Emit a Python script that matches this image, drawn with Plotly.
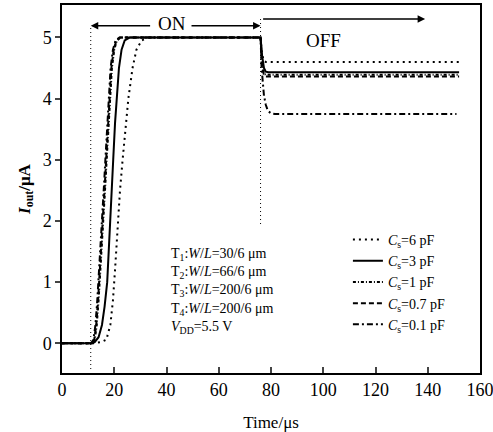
import plotly.graph_objects as go

# ---------------- data ----------------
t_6pF = [0, 12, 15, 17, 18.5, 19.5, 20.3, 21.2, 22.2, 23.2, 24.3, 25.4, 27.0, 28.5, 30.5, 33, 76, 76.5, 77.2, 78, 152]
i_6pF = [0, 0, 0.02, 0.06, 0.3, 0.7, 1.2, 1.9, 2.5, 3.0, 3.5, 4.0, 4.5, 4.8, 4.95, 5.0, 5.0, 4.75, 4.62, 4.6, 4.6]

t_3pF = [0, 11.5, 12.5, 14, 15.3, 16.3, 17.3, 18.2, 19.0, 19.6, 20.3, 20.9, 21.8, 22.8, 24, 26, 76, 76.6, 77.3, 78, 79, 152]
i_3pF = [0, 0, 0.02, 0.1, 0.3, 0.6, 1.0, 1.7, 2.4, 3.0, 3.6, 4.0, 4.5, 4.8, 4.95, 5.0, 5.0, 4.7, 4.5, 4.44, 4.43, 4.43]

t_1pF = [0, 11.5, 12.5, 13.3, 14.0, 14.6, 15.3, 16.0, 16.6, 17.1, 17.7, 18.3, 19.1, 20.0, 21.0, 22.5, 76, 76.5, 77.2, 78, 152]
i_1pF = [0, 0, 0.05, 0.3, 0.7, 1.1, 1.6, 2.1, 2.6, 3.0, 3.5, 4.0, 4.5, 4.8, 4.95, 5.0, 5.0, 4.6, 4.42, 4.39, 4.39]

t_07pF = [0, 11.3, 12.3, 13.1, 13.8, 14.4, 15.1, 15.8, 16.4, 16.9, 17.5, 18.1, 18.9, 19.8, 20.8, 22.2, 76, 76.5, 77.2, 78, 152]
i_07pF = [0, 0, 0.05, 0.3, 0.7, 1.1, 1.6, 2.1, 2.6, 3.0, 3.5, 4.0, 4.5, 4.8, 4.95, 5.0, 5.0, 4.6, 4.4, 4.36, 4.36]

t_01pF = [0, 11.0, 12.0, 12.8, 13.5, 14.1, 14.8, 15.5, 16.1, 16.6, 17.2, 17.8, 18.6, 19.5, 20.5, 22, 76, 76.4, 76.8, 77.3, 78, 78.8, 80, 81.5, 151]
i_01pF = [0, 0, 0.05, 0.3, 0.7, 1.1, 1.6, 2.1, 2.6, 3.0, 3.5, 4.0, 4.5, 4.8, 4.95, 5.0, 5.0, 4.5, 4.25, 4.05, 3.9, 3.8, 3.76, 3.75, 3.75]

series_names = ["<i>C</i><sub>s</sub>=6 pF", "<i>C</i><sub>s</sub>=3 pF", "<i>C</i><sub>s</sub>=1 pF",
                "<i>C</i><sub>s</sub>=0.7 pF", "<i>C</i><sub>s</sub>=0.1 pF"]

x_ticks = [0, 20, 40, 60, 80, 100, 120, 140, 160]
y_ticks = [0, 1, 2, 3, 4, 5]

t_on = 11        # switch-on time
t_off = 76       # switch-off time
t_off_arrow_end = 139
y_on_arrow = 5.19
y_off_arrow = 5.30
t_on_text = 42
t_off_text = 100
y_off_text = 4.95

info_lines = ["T<sub>1</sub>:<i>W</i>/<i>L</i>=30/6 μm",
              "T<sub>2</sub>:<i>W</i>/<i>L</i>=66/6 μm",
              "T<sub>3</sub>:<i>W</i>/<i>L</i>=200/6 μm",
              "T<sub>4</sub>:<i>W</i>/<i>L</i>=200/6 μm",
              "<i>V</i><sub>DD</sub>=5.5 V"]

# ---------------- figure ----------------
FONT = "Liberation Serif, Times New Roman, serif"
fig = go.Figure()

styles = [
    dict(color="black", width=2.0, dash="2px,4px"),
    dict(color="black", width=2.0, dash="solid"),
    dict(color="black", width=2.0, dash="3px,2px,1px,2px"),
    dict(color="black", width=2.0, dash="5px,3px"),
    dict(color="black", width=2.0, dash="6px,3px,2px,3px"),
]
data = [(t_6pF, i_6pF), (t_3pF, i_3pF), (t_1pF, i_1pF), (t_07pF, i_07pF), (t_01pF, i_01pF)]
for (tx, iy), name, st in zip(data, series_names, styles):
    fig.add_trace(go.Scatter(x=tx, y=iy, mode="lines", name=name, line=st))

# vertical dotted guide lines
fig.add_shape(type="line", x0=t_on, x1=t_on, y0=-0.42, y1=y_on_arrow,
              line=dict(color="black", width=1, dash="1px,3px"))
fig.add_shape(type="line", x0=t_off, x1=t_off, y0=1.95, y1=y_off_arrow,
              line=dict(color="black", width=1, dash="1px,3px"))

# ON arrows (split around text)
fig.add_annotation(x=t_on, y=y_on_arrow, ax=34.3, ay=y_on_arrow, xref="x", yref="y",
                   axref="x", ayref="y", text="", showarrow=True, arrowhead=2,
                   arrowsize=1, arrowwidth=1.5, arrowcolor="black")
fig.add_annotation(x=t_off, y=y_on_arrow, ax=49, ay=y_on_arrow, xref="x", yref="y",
                   axref="x", ayref="y", text="", showarrow=True, arrowhead=2,
                   arrowsize=1, arrowwidth=1.5, arrowcolor="black")
fig.add_annotation(x=t_on_text, y=y_on_arrow + 0.04, text="ON", showarrow=False,
                   font=dict(family=FONT, size=19, color="black"))
# OFF arrow
fig.add_annotation(x=t_off_arrow_end, y=y_off_arrow, ax=t_off + 0.4, ay=y_off_arrow, xref="x", yref="y",
                   axref="x", ayref="y", text="", showarrow=True, arrowhead=2,
                   arrowsize=1, arrowwidth=1.5, arrowcolor="black")
fig.add_annotation(x=t_off_text, y=y_off_text, text="OFF", showarrow=False,
                   font=dict(family=FONT, size=19, color="black"))

# parameter text block
fig.add_annotation(x=41.0, y=1.62, xref="x", yref="y", xanchor="left", yanchor="top",
                   align="left", showarrow=False, text="<br>".join(info_lines),
                   font=dict(family=FONT, size=14, color="black"))

fig.update_layout(
    width=493, height=432,
    margin=dict(l=62, r=13, t=5, b=59),
    paper_bgcolor="white", plot_bgcolor="white",
    font=dict(family=FONT, size=14, color="black"),
    showlegend=True,
    legend=dict(x=0.684, y=0.405, xanchor="left", yanchor="top",
                bgcolor="rgba(0,0,0,0)", borderwidth=0,
                font=dict(family=FONT, size=14, color="black"),
                tracegroupgap=0, itemwidth=30),
    xaxis=dict(range=[0, 160], tickvals=x_ticks, ticks="inside", ticklen=6, tickwidth=1.5,
               showline=True, linecolor="black", linewidth=1.5, mirror=True,
               showgrid=False, zeroline=False, ticklabeloverflow="allow", automargin=False,
               tickfont=dict(family=FONT, size=18, color="black"),
               title=dict(text="Time/μs", font=dict(family=FONT, size=17, color="black"), standoff=18)),
    yaxis=dict(range=[-0.485, 5.53], tickvals=y_ticks, ticks="outside", ticklen=5, tickwidth=1.5,
               showline=True, linecolor="black", linewidth=1.5, mirror=True,
               showgrid=False, zeroline=False, automargin=False,
               tickfont=dict(family=FONT, size=18, color="black"),
               title=dict(text="<b><i>I</i><sub>out</sub>/μA</b>", font=dict(family=FONT, size=17, color="black"), standoff=8)),
)

fig.write_html("out.html")
